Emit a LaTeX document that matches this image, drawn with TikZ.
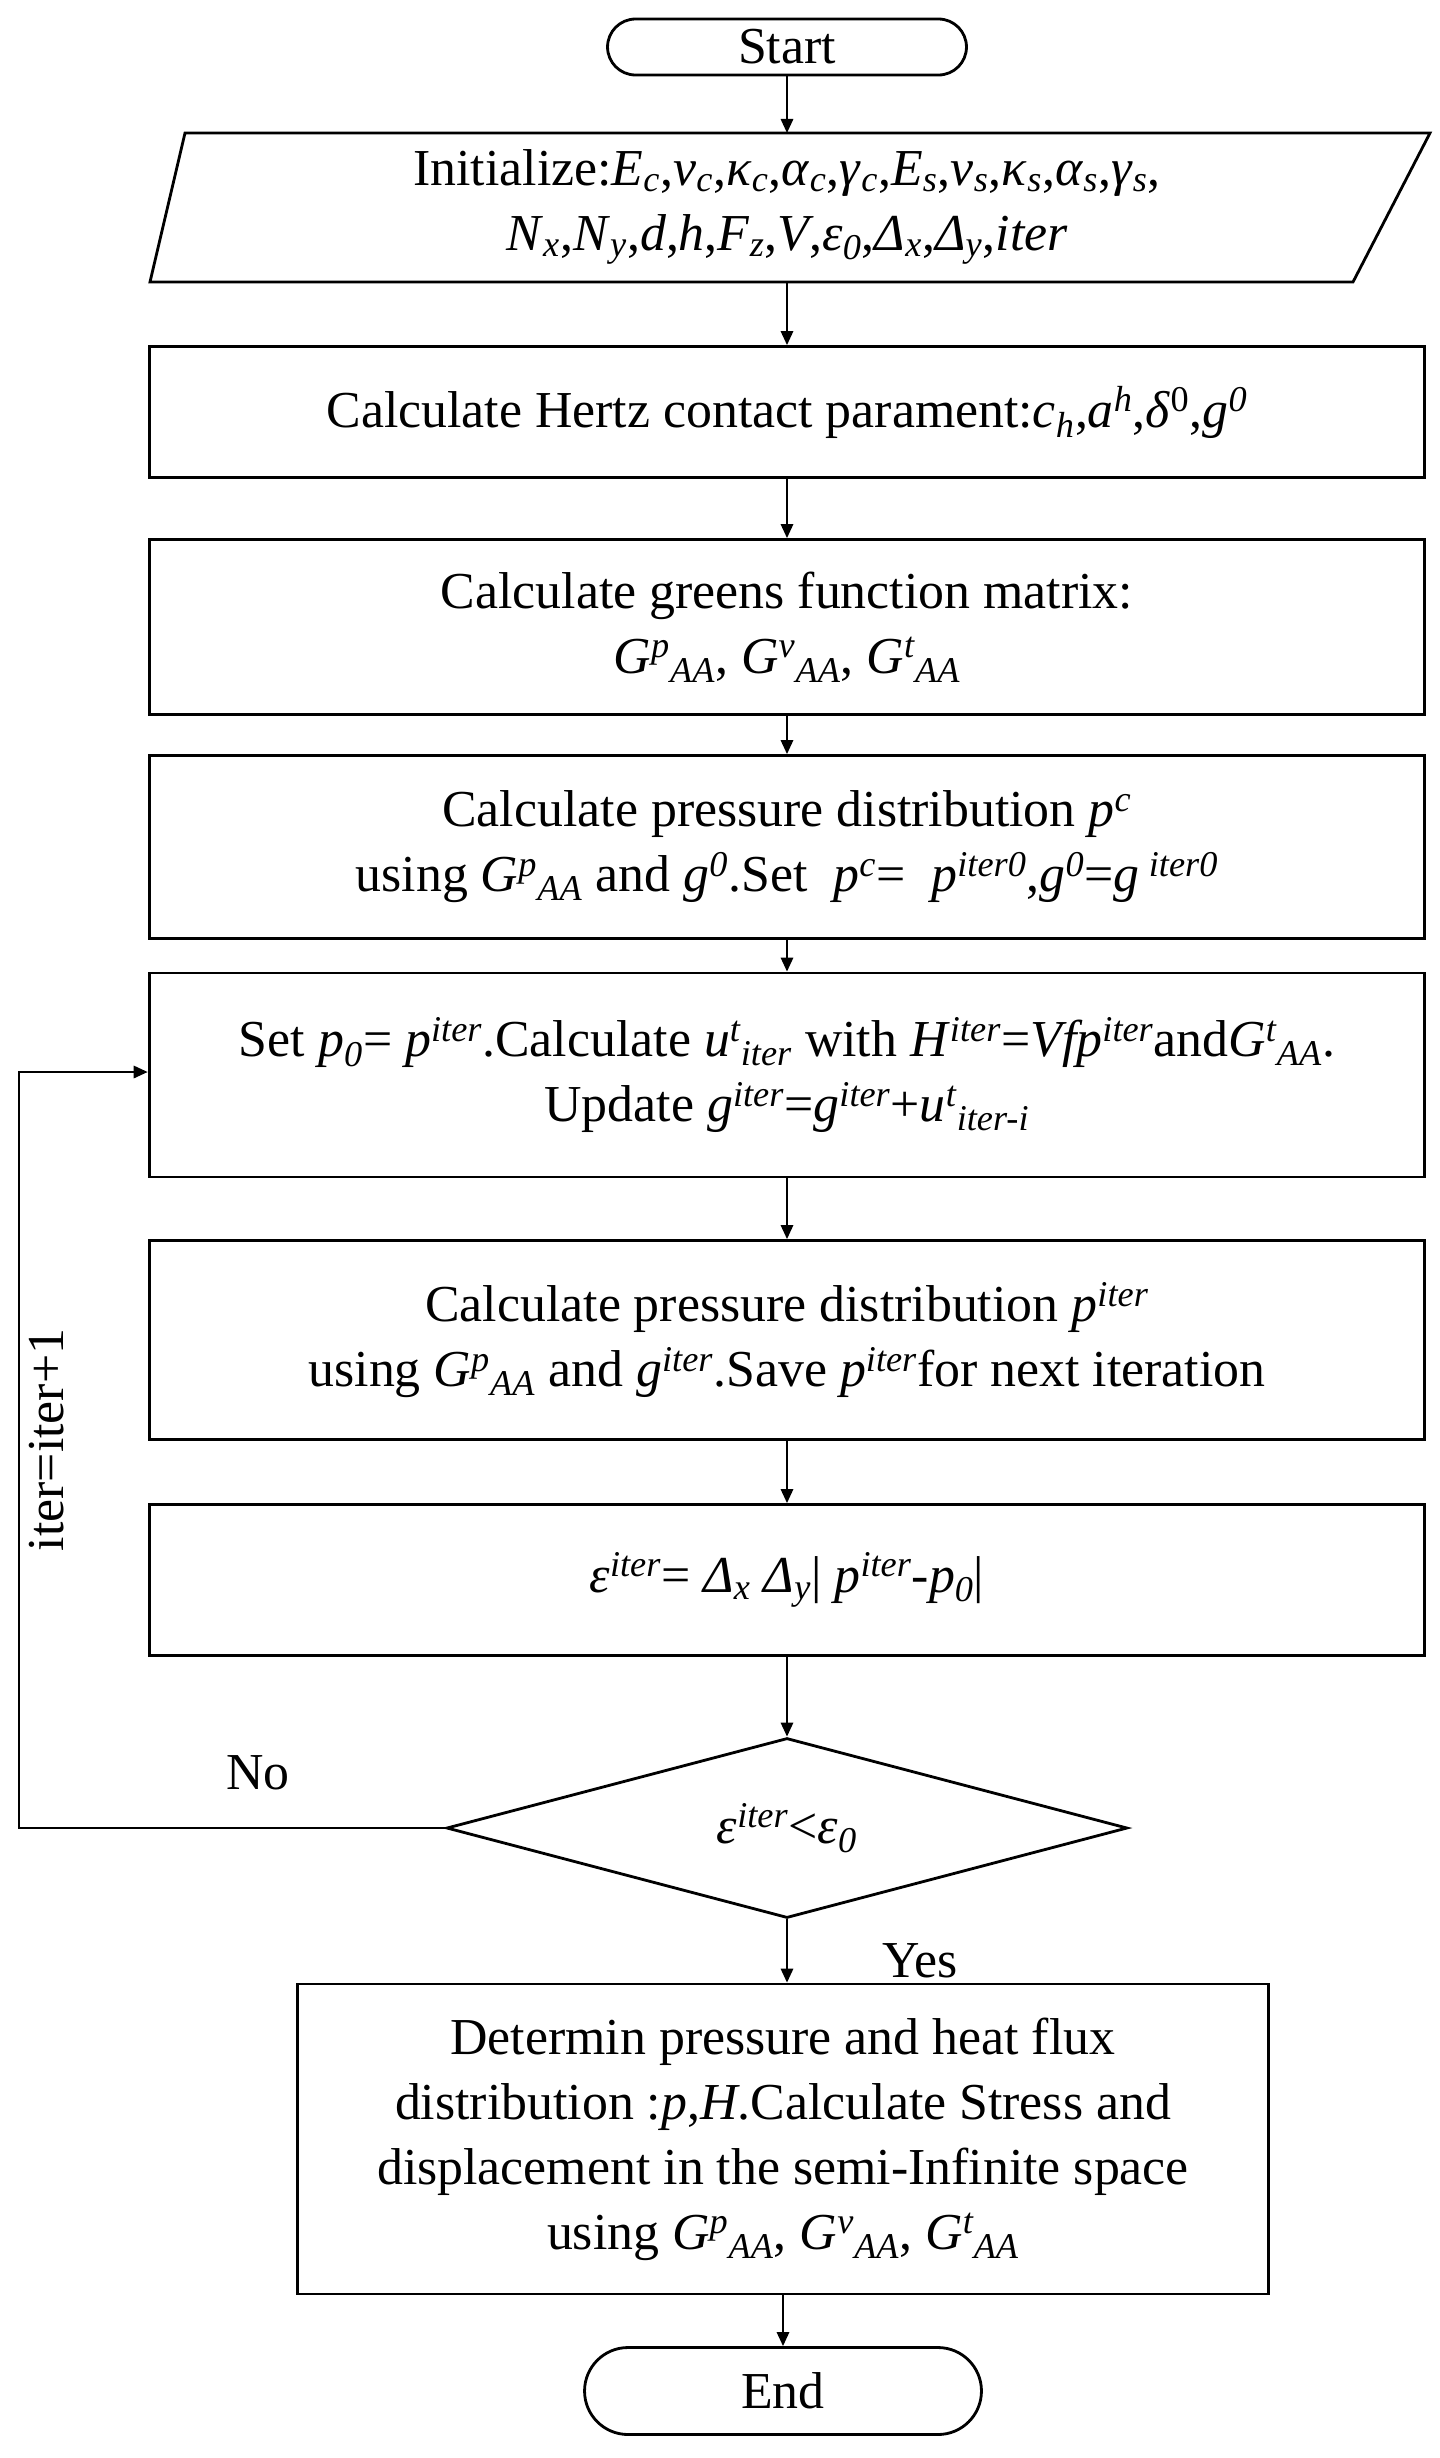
\documentclass[tikz,border=0pt]{standalone}
\usepackage{fontspec}
\setmainfont{Liberation Serif}
\usetikzlibrary{shapes.geometric,arrows.meta}
\newcommand{\ups}[1]{\textsuperscript{\itshape #1}}
\newcommand{\dns}[1]{\textsubscript{\itshape #1}}
\begin{document}
\begin{tikzpicture}[x=0.02cm,y=-0.02cm,
  every node/.style={font=\fontsize{29.5}{37}\selectfont, align=center},
  box/.style={draw, line width=1.6pt, minimum width=25.52cm, inner sep=0pt},
  term/.style={draw, line width=1.6pt, rounded corners=0.56cm, inner sep=0pt},
  arr/.style={-{Triangle[length=8pt,width=7pt]}, line width=1.3pt}]
\useasboundingbox (0,0) rectangle (1440,2458);
\node[term, minimum width=7.18cm, minimum height=1.12cm] (start) at (787,47) {Start};
\draw[line width=1.6pt] (185,133) -- (1430,133) -- (1353,282) -- (150,282) -- cycle;
\node (init) at (787,207) {Initialize:\textit{E}\dns{c},\textit{v}\dns{c},\textit{κ}\dns{c},\textit{α}\dns{c},\textit{γ}\dns{c},\textit{E}\dns{s},\textit{v}\dns{s},\textit{κ}\dns{s},\textit{α}\dns{s},\textit{γ}\dns{s},\\
\textit{N}\dns{x},\textit{N}\dns{y},\textit{d},\textit{h},\textit{F}\dns{z},\textit{V},\textit{ε}\dns{0},\textit{Δ}\dns{x},\textit{Δ}\dns{y},\textit{iter}};
\coordinate (initb) at (787,282);
\coordinate (initt) at (787,133);
\node[box, minimum height=2.62cm] (b2) at (787,412) {Calculate Hertz contact parament:\textit{c}\dns{h},\textit{a}\ups{h},\textit{δ}\textsuperscript{0},\textit{g}\ups{0}};
\node[box, minimum height=3.5cm] (b3) at (787,627) {Calculate greens function matrix:\\ \textit{G}\ups{p}\dns{AA}, \textit{G}\ups{v}\dns{AA}, \textit{G}\ups{t}\dns{AA}};
\node[box, minimum height=3.66cm] (b4) at (787,847) {Calculate pressure distribution \textit{p}\ups{c}\\ using \textit{G}\ups{p}\dns{AA} and \textit{g}\ups{0}.Set \ \textit{p}\ups{c}= \ \textit{p}\ups{iter0},\textit{g}\ups{0}=\textit{g}\ups{ iter0}};
\node[box, minimum height=4.08cm] (b5) at (787,1075) {Set \textit{p}\dns{0}= \textit{p}\ups{iter}.Calculate \textit{u}\ups{t}\dns{iter} with \textit{H}\ups{iter}=\textit{Vfp}\ups{iter}and\textit{G}\ups{t}\dns{AA}.\\ Update \textit{g}\ups{iter}=\textit{g}\ups{iter}+\textit{u}\ups{t}\dns{iter-i}};
\node[box, minimum height=3.98cm] (b6) at (787,1340) {Calculate pressure distribution \textit{p}\ups{iter}\\ using \textit{G}\ups{p}\dns{AA} and \textit{g}\ups{iter}.Save \textit{p}\ups{iter}for next iteration};
\node[box, minimum height=3.02cm] (b7) at (787,1580) {\textit{ε}\ups{iter}= \textit{Δ}\dns{x} \textit{Δ}\dns{y}| \textit{p}\ups{iter}-\textit{p}\dns{0}|};
\node[draw, line width=1.6pt, diamond, aspect=3.8, minimum width=13.62cm, minimum height=3.6cm, inner sep=0pt] (dec) at (787,1828) {\textit{ε}\ups{iter}<\textit{ε}\dns{0}};
\node[box, minimum width=19.42cm, minimum height=6.2cm] (b8) at (783,2139) {Determin pressure and heat flux\\ distribution :\textit{p},\textit{H}.Calculate Stress and\\ displacement in the semi-Infinite space\\ using \textit{G}\ups{p}\dns{AA}, \textit{G}\ups{v}\dns{AA}, \textit{G}\ups{t}\dns{AA}};
\node[term, minimum width=7.94cm, minimum height=1.74cm, rounded corners=0.87cm] (end) at (783,2391) {End};
\draw[arr] (start) -- (initt);
\draw[arr] (initb) -- (b2);
\draw[arr] (b2) -- (b3);
\draw[arr] (b3) -- (b4);
\draw[arr] (b4) -- (b5);
\draw[arr] (b5) -- (b6);
\draw[arr] (b6) -- (b7);
\draw[arr] (b7) -- (dec);
\draw[arr] (dec.south) -- (b8.north -| dec.south);
\draw[arr] (b8.south -| end.north) -- (end);
\coordinate (lc) at (19,1828);
\coordinate (lt) at (19,1072);
\draw[arr] (dec.west) -- (lc) -- (lt) -- (b5.west |- lt);
\node[rotate=90] (lbl) at (47,1440) {iter=iter+1};
\node (no) at (258,1773) {No};
\node (yes) at (920,1961) {Yes};
\end{tikzpicture}
\end{document}
